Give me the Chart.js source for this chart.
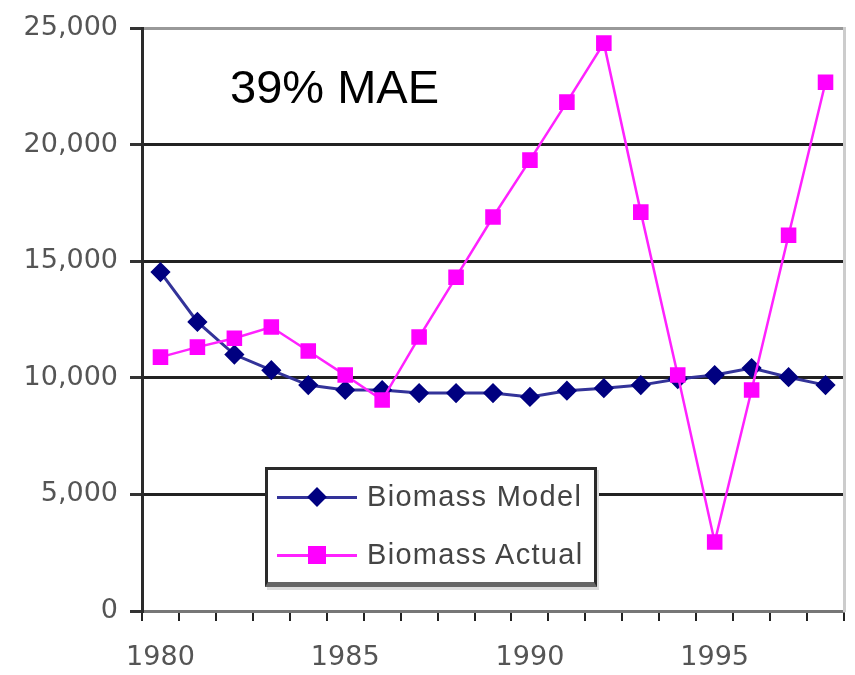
<!DOCTYPE html>
<html>
<head>
<meta charset="utf-8">
<script src="https://cdn.jsdelivr.net/npm/chart.js@4/dist/chart.umd.min.js"></script>
<style>
  body { margin: 0; background: #fff; }
  #wrap { position: relative; width: 855px; height: 675px; }
  #title {
    position: absolute; left: 230px; top: 59px;
    font: 47px "Liberation Sans", Arial, sans-serif; color: #000;
  }
  #legend {
    position: absolute; left: 265px; top: 467px; width: 326px; height: 112px;
    background: #fff; border: 3px solid #2a2a2a; border-bottom: 5px solid #666;
    box-shadow: 2px 3px 0 #ddd;
  }
  .row { position: absolute; left: 9px; height: 30px; width: 320px; }
  .row .ln { position: absolute; left: 0; top: 13px; width: 80px; height: 3px; }
  .row .mk { position: absolute; }
  .row .tx {
    position: absolute; left: 90px; top: -3px; letter-spacing: 1.3px;
    font: 29px "Liberation Sans", Arial, sans-serif; color: #444; white-space: nowrap;
  }
</style>
</head>
<body>
<div id="wrap">
  <canvas id="myChart" width="855" height="675"></canvas>
  <div id="title">39% MAE</div>
  <div id="legend">
    <div class="row" style="top:13px">
      <div class="ln" style="background:#333399"></div>
      <div class="mk" style="left:33px;top:7px;width:14px;height:14px;background:#000080;transform:rotate(45deg)"></div>
      <div class="tx">Biomass Model</div>
    </div>
    <div class="row" style="top:71px">
      <div class="ln" style="background:#ff22ff"></div>
      <div class="mk" style="left:31px;top:5px;width:18px;height:18px;background:#ff00ff"></div>
      <div class="tx">Biomass Actual</div>
    </div>
  </div>
</div>
<script>
const years = ['1980','1981','1982','1983','1984','1985','1986','1987','1988','1989',
               '1990','1991','1992','1993','1994','1995','1996','1997','1998'];
const biomassModel = [14540, 12400, 11000, 10330, 9690, 9480, 9480, 9350, 9350, 9350,
                      9180, 9450, 9560, 9690, 9950, 10120, 10420, 10030, 9690];
const biomassActual = [10890, 11320, 11700, 12180, 11150, 10120, 9050, 11750, 14320, 16900,
                       19340, 21830, 24360, 17110, 10120, 2960, 9480, 16120, 22680];
const yTicks = [0, 5000, 10000, 15000, 20000, 25000];

const tickFont = { family: '"DejaVu Sans", sans-serif', size: 27 };

const ctx = document.getElementById('myChart').getContext('2d');
const myChart = new Chart(ctx, {
    type: 'line',
    data: {
        labels: years,
        datasets: [{
            label: 'Biomass Model',
            data: biomassModel,
            borderColor: '#333399',
            borderWidth: 3,
            pointStyle: 'rectRot',
            pointRadius: 8,
            pointBackgroundColor: '#000080',
            pointBorderColor: '#000080',
            tension: 0,
            order: 2
        }, {
            label: 'Biomass Actual',
            data: biomassActual,
            borderColor: '#ff22ff',
            borderWidth: 2.5,
            pointStyle: 'rect',
            pointRadius: 11,
            pointBackgroundColor: '#ff00ff',
            pointBorderColor: '#ff00ff',
            pointBorderWidth: 0,
            tension: 0,
            order: 1
        }]
    },
    options: {
        responsive: false,
        animation: false,
        layout: { padding: { top: 28, left: 0, right: 0, bottom: 0 } },
        plugins: { legend: { display: false }, tooltip: { enabled: false } },
        scales: {
            x: {
                offset: true,
                grid: {
                    offset: true,
                    drawOnChartArea: false,
                    tickLength: 10,
                    tickColor: '#222',
                    lineWidth: 2
                },
                border: { color: '#777', width: 3 },
                ticks: {
                    autoSkip: false,
                    maxRotation: 0,
                    padding: 21,
                    color: '#555',
                    font: tickFont,
                    callback: function(val, i) { return i % 5 === 0 ? years[i] : ''; }
                },
                afterFit: function(scale) { scale.height = 64; }
            },
            y: {
                min: 0,
                max: 25000,
                afterBuildTicks: function(scale) { scale.ticks = yTicks.map(v => ({ value: v })); },
                grid: {
                    color: c => c.tick.value === 25000 ? '#999' : (c.tick.value === 0 ? '#777' : '#222'),
                    lineWidth: 3,
                    tickLength: 12,
                    tickColor: '#333'
                },
                border: { color: '#2a2a2a', width: 3 },
                ticks: {
                    padding: 12,
                    color: '#555',
                    font: tickFont,
                    callback: v => v.toLocaleString('en-US')
                },
                afterFit: function(scale) { scale.width = 142; }
            },
            yr: {
                position: 'right',
                min: 0,
                max: 1,
                grid: { drawOnChartArea: false, drawTicks: false },
                border: { color: '#ccc', width: 3 },
                ticks: { display: false },
                afterFit: function(scale) { scale.width = 10; }
            }
        }
    }
});
</script>
</body>
</html>
